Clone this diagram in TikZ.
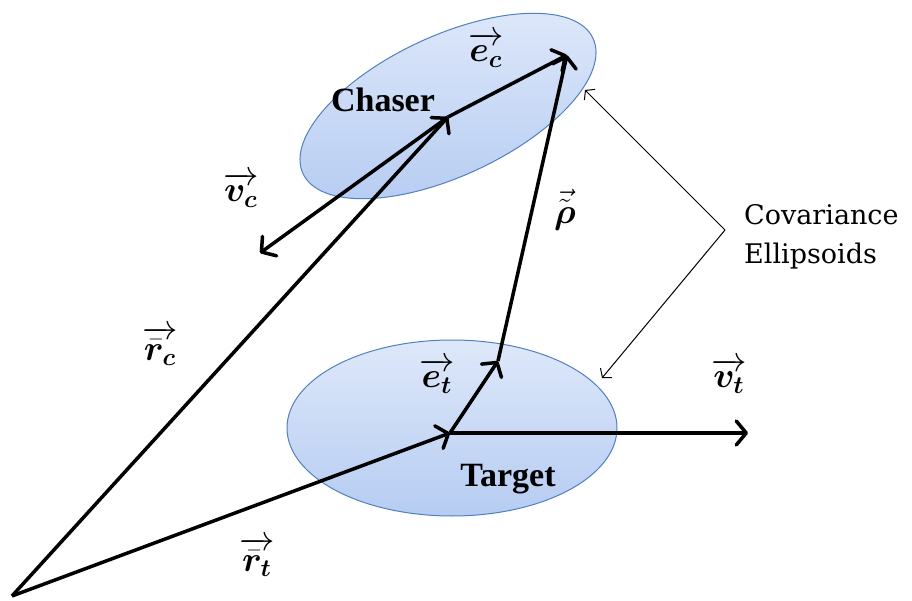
\documentclass[tikz,border=0pt]{standalone}
\usepackage{amsmath,bm}
\usepackage{fontspec}
\setmainfont{Liberation Serif}
\newfontfamily\covfont{DejaVu Serif}
\usetikzlibrary{arrows.meta}
\definecolor{elltop}{RGB}{222,232,250}
\definecolor{ellbot}{RGB}{182,204,242}
\definecolor{elledge}{RGB}{82,128,190}
\tikzset{
  ellfill/.style={draw=elledge, line width=1pt, top color=elltop, bottom color=ellbot},
  vecarrow/.style={line width=3.5pt, -{Straight Barb[length=10pt,width=24pt,round]}},
  thinarrow/.style={line width=1pt, -{Straight Barb[length=6pt,width=15pt]}},
  mlabel/.style={inner sep=0pt, font=\fontsize{17.28}{18}\selectfont, scale=2.05, transform shape},
  boldlabel/.style={font=\fontsize{34}{34}\selectfont\bfseries, inner sep=0pt},
  covlabel/.style={font=\fontsize{27}{27}\selectfont\covfont, inner sep=0pt, anchor=west}
}
\begin{document}
\begin{tikzpicture}[x=1pt,y=-1pt]
\useasboundingbox (0,0) rectangle (912,601);
% ellipses
\path[ellfill, shift={(448,106)}, rotate=25] (0,0) ellipse (160 and 70);
\path[ellfill] (452,428) ellipse (165 and 88);
% points
\coordinate (O) at (12,596);
\coordinate (C) at (448,117);
\coordinate (T) at (450,433);
\coordinate (EC) at (567,55);
\coordinate (ET) at (498,361);
\coordinate (VC) at (260,253);
\coordinate (VT) at (748,433);
\coordinate (K) at (725,230);
\coordinate (KC) at (585,90);
\coordinate (KT) at (602,378);
% vectors
\draw[vecarrow] (O) -- (C);
\draw[vecarrow] (O) -- (T);
\draw[vecarrow] (C) -- (EC);
\draw[vecarrow] (C) -- (VC);
\draw[vecarrow] (T) -- (ET);
\draw[vecarrow] (T) -- (VT);
\draw[vecarrow] (ET) -- (EC);
% covariance pointers
\draw[thinarrow] (K) -- (KC);
\draw[thinarrow] (K) -- (KT);
% labels
\node[mlabel] (lec) at (486,50) {$\overrightarrow{\bm{e}_{\bm{c}}}$};
\node[mlabel] (lvc) at (241,190) {$\overrightarrow{\bm{v}_{\bm{c}}}$};
\node[mlabel] (lrho) at (565,210) {$\vec{\tilde{\bm{\rho}}}$};
\node[mlabel] (lrc) at (160,346) {$\overrightarrow{\bar{\bm{r}}_{\bm{c}}}$};
\node[mlabel] (lrt) at (257,557) {$\overrightarrow{\bar{\bm{r}}_{\bm{t}}}$};
\node[mlabel] (let) at (437,376) {$\overrightarrow{\bm{e}_{\bm{t}}}$};
\node[mlabel] (lvt) at (729,376) {$\overrightarrow{\bm{v}_{\bm{t}}}$};
\node[boldlabel] (lch) at (383,100) {Chaser};
\node[boldlabel] (ltg) at (508,479) {Target};
\node[covlabel] (lcov) at (744,215) {Covariance};
\node[covlabel] (lell) at (744,256) {Ellipsoids};
\end{tikzpicture}
\end{document}
